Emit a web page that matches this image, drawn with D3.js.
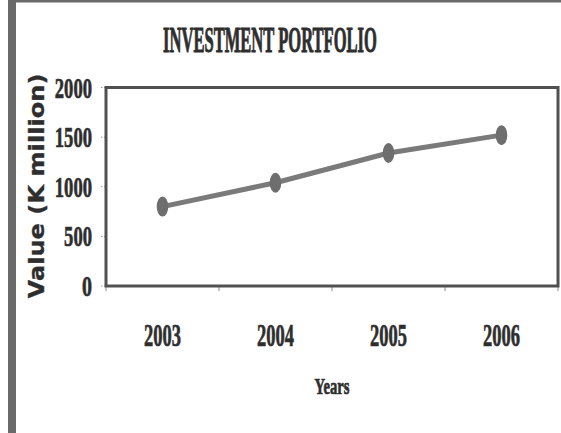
<!DOCTYPE html>
<html>
<head>
<meta charset="utf-8">
<script src="https://cdn.jsdelivr.net/npm/d3@7"></script>
<style>
  html, body { margin: 0; padding: 0; background: #fff; }
  svg { display: block; }
</style>
</head>
<body>
<svg id="chart" width="561" height="433"></svg>
<script>
// Portfolio value by year (K million)
const years = ["2003", "2004", "2005", "2006"];
const values = [800, 1040, 1340, 1520];
const yTicks = [0, 500, 1000, 1500, 2000];
const titleText = "INVESTMENT PORTFOLIO";
const xTitle = "Years";
const yTitle = "Value (K million)";

const svg = d3.select("#chart");
const W = 561, H = 433;
const plot = { left: 106, right: 558, top: 87.5, bottom: 286 };
const ink = "#2e2e2e";
const serif = "'Liberation Serif', 'DejaVu Serif', serif";

// Condensed heavy label: draw at natural size, then squeeze horizontally to a target width
function squeezed(g, str, cx, cy, size, width, anchor, opts = {}) {
  const holder = g.append("g");
  const t = holder.append("text")
    .attr("font-family", opts.family || serif).attr("font-weight", "bold")
    .attr("font-size", size)
    .attr("fill", ink).attr("stroke", ink).attr("stroke-width", opts.sw == null ? 0.7 : opts.sw)
    .attr("text-anchor", anchor)
    .text(str);
  const natural = t.node().getComputedTextLength();
  const k = width / natural;
  holder.attr("transform", `translate(${cx},${cy})${opts.rotate ? " rotate(" + opts.rotate + ")" : ""} scale(${k},1)`);
  return t;
}

// page frame: thick left rule and thin top rule
svg.append("rect").attr("x", 8).attr("y", 0).attr("width", 8).attr("height", H).attr("fill", "#6a6a6a");
svg.append("rect").attr("x", 8).attr("y", 0).attr("width", W - 8).attr("height", 2.5).attr("fill", "#6a6a6a");

const x = d3.scaleBand().domain(years).range([plot.left, plot.right]);
const y = d3.scaleLinear().domain([0, 2000]).range([plot.bottom, plot.top]);

// title
squeezed(svg, titleText, 270, 52, 35, 214, "middle", { sw: 1 });

// y axis: short dotted ticks, labels squeezed and right-aligned
const gy = svg.append("g");
gy.selectAll("line").data(yTicks).join("line")
  .attr("x1", plot.left - 5).attr("x2", plot.left)
  .attr("y1", d => y(d)).attr("y2", d => y(d))
  .attr("stroke", "#999").attr("stroke-width", 1).attr("stroke-dasharray", "1.5,1.5");
yTicks.forEach(d => {
  const s = d3.format("d")(d);
  squeezed(gy, s, 92, y(d) + 10, 30, s.length === 1 ? 10 : s.length * 9.3, "end");
});

// x axis: small ticks at band boundaries, labels at band centres
const bounds = years.map(d => x(d)).concat([plot.right]);
svg.append("g").selectAll("line").data(bounds).join("line")
  .attr("x1", d => d).attr("x2", d => d)
  .attr("y1", plot.bottom + 1).attr("y2", plot.bottom + 5)
  .attr("stroke", "#888").attr("stroke-width", 1);

const gx = svg.append("g");
years.forEach(d => squeezed(gx, d, x(d) + x.bandwidth() / 2, 346, 31, 37, "middle"));

// axis titles
squeezed(svg, xTitle, 332, 394, 24, 35, "middle");
squeezed(svg, yTitle, 44, 186, 21, 225, "middle",
  { family: "'DejaVu Sans', sans-serif", rotate: -90, sw: 0.3 });

// plot frame
svg.append("rect")
  .attr("x", plot.left).attr("y", plot.top)
  .attr("width", plot.right - plot.left).attr("height", plot.bottom - plot.top)
  .attr("fill", "none").attr("stroke", "#505050").attr("stroke-width", 3);

// series line and markers
const pts = years.map((d, i) => [x(d) + x.bandwidth() / 2, y(values[i])]);
svg.append("path")
  .attr("d", d3.line()(pts))
  .attr("fill", "none").attr("stroke", "#7a7a7a").attr("stroke-width", 5)
  .attr("stroke-linecap", "round");

svg.append("g").selectAll("ellipse").data(pts).join("ellipse")
  .attr("cx", d => d[0]).attr("cy", d => d[1])
  .attr("rx", 5.8).attr("ry", 10)
  .attr("fill", "#6e6e6e");
</script>
</body>
</html>
